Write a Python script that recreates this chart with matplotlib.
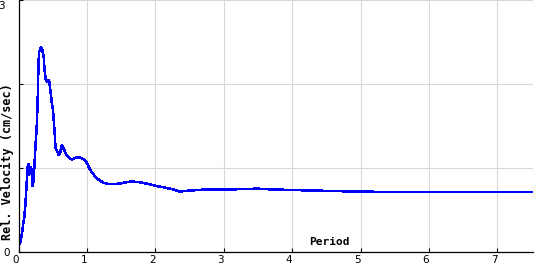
import matplotlib
matplotlib.use("Agg")
import matplotlib.pyplot as plt
from matplotlib.transforms import ScaledTranslation

period = [0.022, 0.047, 0.066, 0.085, 0.10, 0.115, 0.129, 0.143, 0.153, 0.168,
          0.183, 0.193, 0.207, 0.222, 0.237, 0.251, 0.266, 0.28, 0.29, 0.30,
          0.314, 0.33, 0.35, 0.368, 0.38, 0.40, 0.416, 0.435, 0.45, 0.465,
          0.485, 0.504, 0.52, 0.533, 0.54, 0.56, 0.57, 0.59, 0.61, 0.63,
          0.645, 0.67, 0.70, 0.73, 0.78, 0.825, 0.87, 0.91, 0.957, 1.0,
          1.045, 1.09, 1.14, 1.19, 1.24, 1.31, 1.43, 1.51, 1.65, 1.77,
          1.90, 1.99, 2.12, 2.24, 2.36, 2.48, 2.70, 3.0, 3.3, 3.5,
          3.7, 4.0, 4.3, 4.6, 4.9, 5.5, 6.0, 6.5, 7.0, 7.52]
rel_velocity = [0.10, 0.20, 0.32, 0.42, 0.56, 0.75, 0.976, 1.056, 0.917, 0.976,
                1.016, 0.937, 0.777, 0.877, 1.095, 1.294, 1.48, 1.79, 2.17, 2.38,
                2.40, 2.44, 2.40, 2.33, 2.17, 2.04, 2.03, 2.05, 2.03, 1.93,
                1.79, 1.69, 1.51, 1.37, 1.24, 1.21, 1.19, 1.15, 1.19, 1.27,
                1.26, 1.21, 1.16, 1.13, 1.10, 1.12, 1.13, 1.12, 1.10, 1.06,
                0.98, 0.93, 0.88, 0.85, 0.825, 0.81, 0.81, 0.82, 0.84, 0.83,
                0.81, 0.79, 0.77, 0.75, 0.72, 0.73, 0.742, 0.742, 0.75, 0.754,
                0.745, 0.738, 0.732, 0.726, 0.72, 0.714, 0.714, 0.714, 0.714, 0.714]
x_ticks = [0, 1, 2, 3, 4, 5, 6, 7]
x_tick_labels = ["0", "1", "2", "3", "4", "5", "6", "7"]
y_ticks = [0, 1, 2, 3]
y_tick_labels = ["0", "", "", "3"]
x_label = "Period"
y_label = "Rel. Velocity (cm/sec)"

fig = plt.figure(figsize=(5.4, 2.7), dpi=100)
ax = fig.add_axes([18.5 / 540, 18 / 270, (533 - 18.5) / 540, 252 / 270])

ax.plot(period, rel_velocity, color="#0000ff", linewidth=1.1, antialiased=False,
        solid_joinstyle="miter")

ax.set_xlim(0, 7.52)
ax.set_ylim(0, 3)
ax.set_xticks(x_ticks)
ax.set_xticklabels(x_tick_labels, fontsize=7.5, family="DejaVu Sans")
ax.set_yticks(y_ticks)
ax.set_yticklabels(y_tick_labels, fontsize=7.5, family="DejaVu Sans")
ax.tick_params(direction="in", length=3, width=0.8, color="black", pad=2)
ax.tick_params(axis="y", pad=6)
ax.grid(True, color="#d9d9d9", linewidth=0.8)
ax.set_axisbelow(True)
for s in ["top", "right"]:
    ax.spines[s].set_visible(False)
for s in ["left", "bottom"]:
    ax.spines[s].set_linewidth(0.9)
    ax.spines[s].set_color("black")

# small offsets of tick labels as in reference
for lab in ax.get_xticklabels():
    lab.set_transform(lab.get_transform() + ScaledTranslation(-3 / 100, 0, fig.dpi_scale_trans))
ylabs = ax.get_yticklabels()
ylabs[3].set_transform(ylabs[3].get_transform() + ScaledTranslation(-5 / 100, -5 / 100, fig.dpi_scale_trans))

ax.text(4.55, 0.123, x_label, ha="center", va="center", fontsize=8,
        family="DejaVu Sans Mono", fontweight="bold")
fig.text(7.5 / 540, (270 - 162) / 270, y_label, rotation=90, ha="center", va="center",
         fontsize=8.5, family="DejaVu Sans Mono", fontweight="bold")

fig.savefig("out.png", dpi=100)
